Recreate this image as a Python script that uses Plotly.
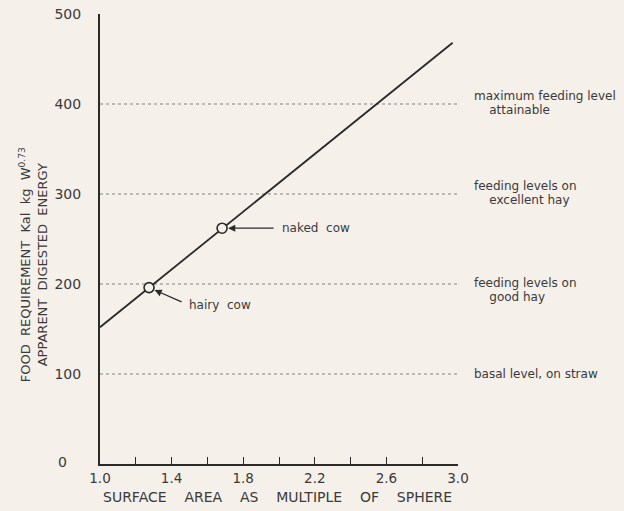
import plotly.graph_objects as go

# ---- data ----
line_x = [1.0, 2.97]
line_y = [152, 468]

cow_names = ["hairy cow", "naked cow"]
cow_x = [1.274, 1.682]
cow_y = [196, 262]

level_values = [400, 300, 200, 100]
level_lines = [
    ["maximum feeding level", "attainable"],
    ["feeding levels on", "excellent hay"],
    ["feeding levels on", "good hay"],
    ["basal level, on straw"],
]

x_tick_vals = [1.0, 1.4, 1.8, 2.2, 2.6, 3.0]
x_tick_text = ["1.0", "1.4", "1.8", "2.2", "2.6", "3.0"]
x_minor_vals = [1.2, 1.6, 2.0, 2.4, 2.8]
y_tick_vals = [100, 200, 300, 400, 500]
y_tick_text = ["100", "200", "300", "400", "500"]

BG = "#f6f0eb"
INK = "#2a2a2a"
TXT = "#3a3a3a"
FONT = "DejaVu Sans"
SP2 = "\u00a0\u00a0"
SP4 = "\u00a0\u00a0\u00a0\u00a0"

fig = go.Figure()

# dotted reference levels
for v in level_values:
    fig.add_trace(go.Scatter(
        x=[x_tick_vals[0], x_tick_vals[-1]], y=[v, v], mode="lines",
        line=dict(color="#808080", width=1.2, dash="dot"),
        hoverinfo="skip", showlegend=False))

# main line
fig.add_trace(go.Scatter(x=line_x, y=line_y, mode="lines",
                         line=dict(color=INK, width=1.8),
                         showlegend=False))

# cow points
fig.add_trace(go.Scatter(x=cow_x, y=cow_y, mode="markers",
                         marker=dict(symbol="circle", size=10, color=BG,
                                     line=dict(color=INK, width=1.6)),
                         showlegend=False))

annotations = []
# right side level labels (pixel shifts of first line per label block)
first_line_shift = [8, 8, 1, 0]
LINE_GAP = 14
for v, lines, s0 in zip(level_values, level_lines, first_line_shift):
    for i, ln in enumerate(lines):
        annotations.append(dict(x=1.042, xref="paper", y=v, yref="y",
                                text=(SP4 + ln) if i > 0 else ln,
                                showarrow=False, xanchor="left",
                                yanchor="middle", align="left",
                                borderpad=0,
                                yshift=s0 - LINE_GAP * i,
                                font=dict(family=FONT, size=12, color=TXT)))

# arrows + labels for cows
arrow_specs = {"hairy cow": (34, 15, 38, -17), "naked cow": (53, 0, 58, 0)}
for name, cx, cy in zip(cow_names, cow_x, cow_y):
    ax, ay, xs, ys = arrow_specs[name]
    annotations.append(dict(x=cx, y=cy, xref="x", yref="y", text="",
                            showarrow=True, ax=ax, ay=ay, arrowhead=2,
                            arrowsize=1.1, arrowwidth=1.3, arrowcolor=INK,
                            standoff=6))
    annotations.append(dict(x=cx, y=cy, xref="x", yref="y",
                            text=name.replace(" ", SP2),
                            showarrow=False, xanchor="left", yanchor="middle",
                            xshift=xs, yshift=ys,
                            font=dict(family=FONT, size=12, color=TXT)))

# zero label
annotations.append(dict(x=-0.105, xref="paper", y=0, yref="y", text="0",
                        showarrow=False, xanchor="center", yanchor="middle",
                        yshift=2, font=dict(family=FONT, size=14, color=TXT)))

# axis titles
annotations.append(dict(x=-0.187, xref="paper", y=0.442, yref="paper",
                        text=SP2.join(["FOOD", "REQUIREMENT", "Kal", "kg", "W<sup>0.73</sup>"]) + "<br>" +
                             SP2.join(["APPARENT", "DIGESTED", "ENERGY"]),
                        textangle=-90, showarrow=False, xanchor="center",
                        yanchor="middle",
                        font=dict(family=FONT, size=13, color=TXT)))
annotations.append(dict(x=0.497, xref="paper", y=-0.073, yref="paper",
                        text=SP4.join(["SURFACE", "AREA", "AS", "MULTIPLE", "OF", "SPHERE"]),
                        showarrow=False, xanchor="center", yanchor="middle",
                        font=dict(family=FONT, size=14, color=TXT)))

fig.update_layout(
    width=624, height=511,
    margin=dict(l=100, r=166, t=14, b=47, autoexpand=False),
    paper_bgcolor=BG, plot_bgcolor=BG,
    showlegend=False,
    annotations=annotations,
    font=dict(family=FONT, color=TXT),
    xaxis=dict(range=[1.0, 3.0], tickmode="array", tickvals=x_tick_vals,
               ticktext=x_tick_text, ticks="inside", ticklen=7,
               tickwidth=1.3, tickcolor=INK, automargin=False,
               minor=dict(tickmode="array", tickvals=x_minor_vals,
                          ticks="inside", ticklen=7, tickwidth=1.3,
                          tickcolor=INK, showgrid=False),
               showline=True, linecolor=INK, linewidth=1.6,
               showgrid=False, zeroline=False, ticklabelstandoff=1,
               tickfont=dict(family=FONT, size=13.5, color=TXT)),
    yaxis=dict(range=[0, 500], tickmode="array", tickvals=y_tick_vals,
               ticktext=y_tick_text, ticks="", showline=True,
               linecolor=INK, linewidth=2, showgrid=False, zeroline=False,
               ticklabelstandoff=14, automargin=False,
               tickfont=dict(family=FONT, size=14, color=TXT)),
)

fig.write_html("out.html",
               config={"displayModeBar": False},
               post_script="document.body.style.margin='0';document.body.style.overflow='hidden';")
